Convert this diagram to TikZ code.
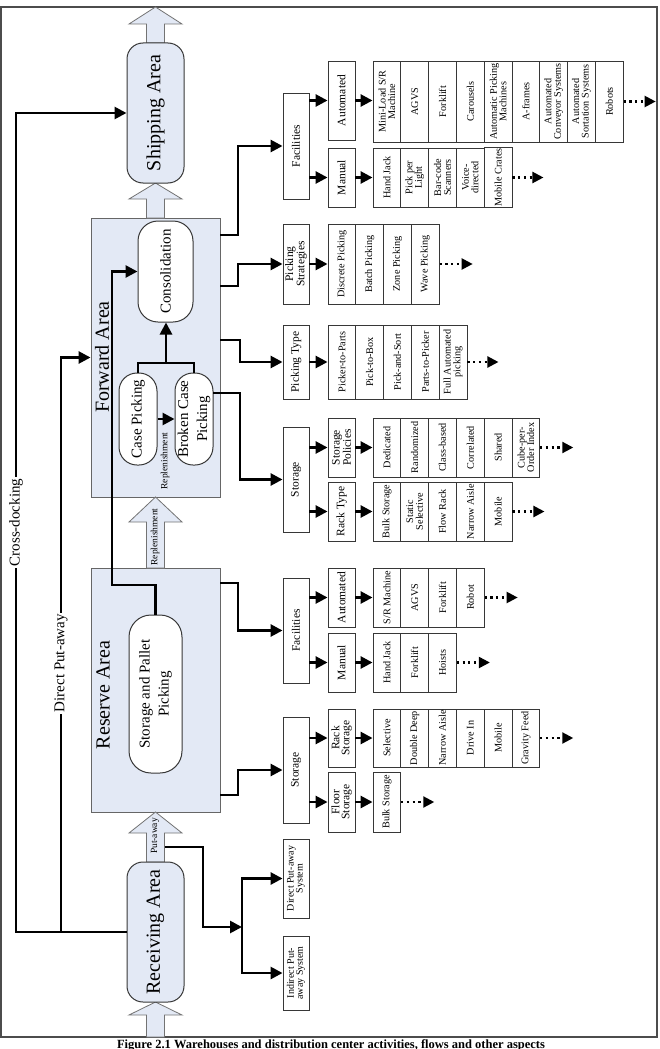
\documentclass[tikz,border=0pt]{standalone}
\usepackage{fontspec}
\setmainfont{Liberation Serif}
\usetikzlibrary{arrows.meta,calc}
\definecolor{areafill}{RGB}{227,233,245}
\definecolor{lineclr}{RGB}{55,55,55}
\tikzset{
  conn/.style={line width=2.7pt, draw=black},
  arr/.style={conn, -{Triangle[length=12pt,width=12pt]}},
  dotarr/.style={line width=2.2pt, draw=black, dash pattern=on 2.2pt off 3.5pt, -{Triangle[length=11pt,width=11pt]}},
  box/.style={draw=lineclr, line width=0.9pt, fill=white, rotate=90, inner sep=1pt, align=center},
  cell/.style={box, minimum height=27.8pt, font=\fontsize{10.2}{9.6}\selectfont},
  lvlbox/.style={box, minimum height=26pt, font=\fontsize{11.5}{10}\selectfont},
  lvltwo/.style={box, minimum height=27pt, font=\fontsize{11.5}{10}\selectfont},
  sysbox/.style={box, minimum height=26pt, font=\fontsize{10}{9}\selectfont},
  area/.style={draw=black!60, line width=0.9pt, fill=areafill, inner sep=0},
  bignode/.style={draw=lineclr, line width=1pt, fill=areafill, rotate=90, rounded corners=16pt, align=center, font=\fontsize{20}{20}\selectfont, inner sep=0},
  midnode/.style={draw=lineclr, line width=1pt, fill=white, rotate=90, align=center, font=\fontsize{15}{19}\selectfont, inner sep=0},
  arealbl/.style={rotate=90, font=\fontsize{20}{20}\selectfont, inner sep=0},
  flowlbl/.style={rotate=90, fill=white, font=\fontsize{15}{15}\selectfont, inner sep=1.5pt},
  smalllbl/.style={rotate=90, font=\fontsize{9.5}{9.5}\selectfont, inner sep=0},
  blk/.style={fill=areafill, draw=black!55, line width=0.8pt},
  frame/.style={draw=black!70, line width=1.2pt},
}
\newcommand\mklist[5]{%
  \foreach \itm [count=\i] in {#5} {\node[cell, minimum width=#4pt] (#1-\i) at ({#2+27.8*(\i-0.5)}, #3) {\itm};}%
}
\newcommand\blkarrow[3]{\draw[blk] (155.5,#1) -- (182,#2) -- (164.5,#2) -- (164.5,#3) -- (146.5,#3) -- (146.5,#2) -- (129,#2) -- cycle;}
\begin{document}
\begin{tikzpicture}[x=1pt,y=-1pt]
\useasboundingbox (0,0) rectangle (659,1049);
\draw[frame] (1,7) rectangle (657,1037);

% areas
\node[area, minimum width=129pt, minimum height=279pt] (fwd) at (155.5,357.5) {};
\node[area, minimum width=129pt, minimum height=244pt] (rsv) at (155.5,690) {};

% block arrows
\blkarrow{7}{24}{43}
\blkarrow{183}{199}{218}
\blkarrow{497}{522}{568}
\blkarrow{812}{833}{862}
\blkarrow{1002}{1015}{1037}

% main nodes
\node[bignode, minimum width=140pt, minimum height=57pt] (ship) at (155.5,113) {Shipping Area};
\node[bignode, minimum width=140pt, minimum height=57pt] (rcv) at (155.5,932) {Receiving Area};
\node[midnode, rounded corners=20pt, minimum width=101pt, minimum height=55pt] (cons) at (165.5,271.5) {Consolidation};
\node[midnode, rounded corners=18pt, minimum width=92pt, minimum height=38pt] (cp) at (138,419) {Case Picking};
\node[midnode, rounded corners=18pt, minimum width=92pt, minimum height=38pt] (bcp) at (194,419) {Broken Case\\Picking};
\node[midnode, rounded corners=22pt, minimum width=158pt, minimum height=53pt] (spp) at (155.5,694) {Storage and Pallet\\Picking};
\node[arealbl] (fwdl) at (102,357) {Forward Area};
\node[arealbl] (rsvl) at (103,695) {Reserve Area};
\node[smalllbl] (repl1) at (165,461) {Replenishment};
\node[smalllbl] (repl2) at (155,537) {Replenishment};
\node[smalllbl] (putl) at (155,836) {Put-away};

% level 1
\node[lvlbox, minimum width=106pt] (fac1) at (296,146) {Facilities};
\node[lvlbox, minimum width=80pt] (ps) at (296,264) {Picking\\Strategies};
\node[lvlbox, minimum width=74pt] (pt) at (296,362) {Picking Type};
\node[lvlbox, minimum width=105pt] (fsto) at (296,479.5) {Storage};
\node[lvlbox, minimum width=105pt] (rfac) at (296,630.5) {Facilities};
\node[lvlbox, minimum width=106pt] (rsto) at (296,770) {Storage};
\node[sysbox, minimum width=79pt] (dps) at (296,878.5) {Direct Put-away\\System};
\node[sysbox, minimum width=74pt] (ips) at (296,973) {Indirect Put-\\away System};

% level 2
\node[lvltwo, minimum width=79pt] (aut1) at (341.5,100.5) {Automated};
\node[lvltwo, minimum width=59pt] (man1) at (341.5,177.5) {Manual};
\node[lvltwo, minimum width=59pt] (spol) at (341.5,447.5) {Storage\\Policies};
\node[lvltwo, minimum width=59pt] (rtyp) at (341.5,511.5) {Rack Type};
\node[lvltwo, minimum width=59pt] (aut2) at (341.5,597.5) {Automated};
\node[lvltwo, minimum width=59pt] (man2) at (341.5,662.5) {Manual};
\node[lvltwo, minimum width=58pt] (rst) at (341.5,738) {Rack\\Storage};
\node[lvltwo, minimum width=60pt] (fst) at (341.5,802) {Floor\\Storage};

% lists
\mklist{L1}{373}{101.5}{81}{{Mini-Load S/R\\Machine},AGVS,Forklift,Carousels,{Automatic Picking\\Machines},A-frames,{Automated\\Conveyor Systems},{Automated\\Sortation Systems},Robots}
\mklist{L2}{373}{177.5}{59}{Hand Jack,{Pick per\\Light},{Bar-code\\Scanners},{Voice-\\directed},Mobile Crates}
\mklist{L3}{328}{264}{80}{Discrete Picking,Batch Picking,Zone Picking,Wave Picking}
\mklist{L4}{328}{362}{74}{Picker-to-Parts,Pick-to-Box,Pick-and-Sort,Parts-to-Picker,{Full Automated\\picking}}
\mklist{L5}{373}{447.5}{59}{Dedicated,Randomized,Class-based,Correlated,Shared,{Cube-per-\\Order Index}}
\mklist{L6}{373}{511.5}{59}{Bulk Storage,{Static\\Selective},Flow Rack,Narrow Aisle,Mobile}
\mklist{L7}{373}{597.5}{59}{S/R Machine,AGVS,Forklift,Robot}
\mklist{L8}{373}{662.5}{59}{Hand Jack,Forklift,Hoists}
\mklist{L9}{373}{738}{58}{Selective,Double Deep,Narrow Aisle,Drive In,Mobile,Gravity Feed}
\mklist{L10}{373}{802}{60}{Bulk Storage}

% coordinates
\coordinate (cd) at (16,932);
\coordinate (dpj) at (61,932);
\coordinate (f1) at (220,235);
\coordinate (f2) at (220,286);
\coordinate (f3) at (220,340);
\coordinate (b1) at (213,393);
\coordinate (r1) at (220,583);
\coordinate (r2) at (220,795);
\coordinate (pa) at (164.5,847);
\coordinate (pj) at (242,927);
\coordinate (j1) at (166,363);
\coordinate (s1) at (112,585);

% flows
\draw[arr] (rcv.north) -- (cd) |- node[flowlbl,pos=0.25]{Cross-docking} (ship.north);
\draw[arr] (dpj) |- node[flowlbl,pos=0.234]{Direct Put-away} (fwd.west);
\draw[arr] (spp.east) |- (s1) |- (cons.north);
\draw[conn] (cp.east) |- (j1) -| (bcp.east);
\draw[arr] (j1) -- (j1 |- cons.west);
\draw[arr] (cp.south) -- (bcp.north);

\draw[arr] (f1) -- ++(18,0) |- (fac1.north);
\draw[arr] (f2) -- ++(18,0) |- (ps.north);
\draw[arr] (f3) -- ++(20,0) |- (pt.north);
\draw[arr] (b1) -- ++(27,0) |- (fsto.north);
\draw[arr] (r1) -- ++(18,0) |- (rfac.north);
\draw[arr] (r2) -- ++(18,0) |- (rsto.north);
\draw[arr] (pa) -- ++(38.5,0) |- (pj);
\draw[arr] (pj) |- (dps.north);
\draw[arr] (pj) |- (ips.north);

\draw[arr] (fac1.south |- aut1.north) -- (aut1.north);
\draw[arr] (fac1.south |- man1.north) -- (man1.north);
\draw[arr] (ps.south) -- (L3-1.north);
\draw[arr] (pt.south) -- (L4-1.north);
\draw[arr] (fsto.south |- spol.north) -- (spol.north);
\draw[arr] (fsto.south |- rtyp.north) -- (rtyp.north);
\draw[arr] (rfac.south |- aut2.north) -- (aut2.north);
\draw[arr] (rfac.south |- man2.north) -- (man2.north);
\draw[arr] (rsto.south |- rst.north) -- (rst.north);
\draw[arr] (rsto.south |- fst.north) -- (fst.north);

\draw[arr] (aut1.south) -- (aut1.south -| L1-1.north);
\draw[arr] (man1.south) -- (man1.south -| L2-1.north);
\draw[arr] (spol.south) -- (spol.south -| L5-1.north);
\draw[arr] (rtyp.south) -- (rtyp.south -| L6-1.north);
\draw[arr] (aut2.south) -- (aut2.south -| L7-1.north);
\draw[arr] (man2.south) -- (man2.south -| L8-1.north);
\draw[arr] (rst.south) -- (rst.south -| L9-1.north);
\draw[arr] (fst.south) -- (fst.south -| L10-1.north);

\draw[dotarr] (L1-9.south) -- ++(32,0);
\draw[dotarr] (L2-5.south) -- ++(31,0);
\draw[dotarr] (L3-4.south) -- ++(33,0);
\draw[dotarr] (L4-5.south) -- ++(31,0);
\draw[dotarr] (L5-6.south) -- ++(33,0);
\draw[dotarr] (L6-5.south) -- ++(32,0);
\draw[dotarr] (L7-4.south) -- ++(33,0);
\draw[dotarr] (L8-3.south) -- ++(33,0);
\draw[dotarr] (L9-6.south) -- ++(33,0);
\draw[dotarr] (L10-1.south) -- ++(33,0);

% caption
\node[font=\bfseries\fontsize{12.5}{12.5}\selectfont] (cap) at (331,1045) {Figure 2.1 Warehouses and distribution center activities, flows and other aspects};
\end{tikzpicture}
\end{document}
